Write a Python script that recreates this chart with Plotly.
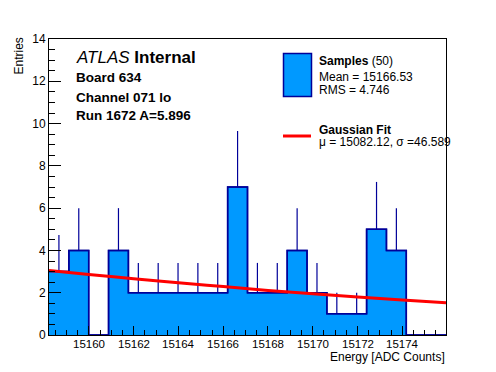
import numpy as np
import plotly.graph_objects as go

# ---------------- data ----------------
x_min = 15158.22
x_max = 15175.95
n_bins = 20
counts = [3, 4, 0, 4, 2, 2, 2, 2, 2, 7, 2, 2, 4, 2, 1, 1, 5, 4, 0, 0]
errors = [1.73, 2.0, 0.0, 2.0, 1.41, 1.41, 1.41, 1.41, 1.41, 2.65,
          1.41, 1.41, 2.0, 1.41, 1.0, 1.0, 2.24, 2.0, 0.0, 0.0]

fit_x = [15158.22, 15160, 15162, 15164, 15166, 15168, 15170, 15172, 15174, 15175.95]
fit_y = [3.05, 2.86, 2.66, 2.47, 2.29, 2.11, 1.95, 1.80, 1.65, 1.53]

y_ticks = [0, 2, 4, 6, 8, 10, 12, 14]
x_ticks = [15160, 15162, 15164, 15166, 15168, 15170, 15172, 15174]

atlas_lines = ["Board 634", "Channel 071 lo", "Run 1672 A=5.896"]
legend_samples = ["Mean = 15166.53", "RMS = 4.746"]
legend_fit = "\u03bc = 15082.12, \u03c3 =46.589"

# ---------------- geometry (screen px; page body has 8px margin) ----------------
OFF = 8
W, H = 488, 364
L, R, T, B = 41, 50, 31, 37
PW, PH = W - L - R, H - T - B

def px(x):
    return (x - OFF - L) / PW

def py(y):
    return (H - B - (y - OFF)) / PH

FONT = "Liberation Sans, Arial, Helvetica, sans-serif"
FILL = "#0099ff"
NAVY = "#000099"

width = (x_max - x_min) / n_bins
edges = x_min + width * np.arange(n_bins + 1)
centers = (edges[:-1] + edges[1:]) / 2

fig = go.Figure()

# histogram fill + stepped outline
fig.add_trace(go.Scatter(
    x=list(edges), y=counts + [counts[-1]],
    mode="lines", line=dict(shape="hv", color=NAVY, width=1.5),
    fill="tozeroy", fillcolor=FILL, hoverinfo="skip", showlegend=False))

# error bars (upper parts visible)
ex = [c for c, n in zip(centers, counts) if n > 0]
ey = [n for n in counts if n > 0]
ee = [e for e, n in zip(errors, counts) if n > 0]
fig.add_trace(go.Scatter(
    x=ex, y=ey, mode="markers", marker=dict(size=0.1, color=NAVY),
    error_y=dict(type="data", array=ee, arrayminus=[0] * len(ee),
                 symmetric=False, color=NAVY, thickness=1.2, width=0),
    hoverinfo="skip", showlegend=False))

# redraw outline over error bars
fig.add_trace(go.Scatter(
    x=list(edges), y=counts + [counts[-1]],
    mode="lines", line=dict(shape="hv", color=NAVY, width=1.5),
    hoverinfo="skip", showlegend=False))

# Gaussian fit
fig.add_trace(go.Scatter(
    x=fit_x, y=fit_y, mode="lines", line=dict(color="#ff0000", width=3, shape="spline"),
    hoverinfo="skip", showlegend=False))

ann = []
def text(xp, yp, s, size, anchor="left", **kw):
    ann.append(dict(x=px(xp), y=py(yp), xref="paper", yref="paper", text=s,
                    showarrow=False, xanchor=anchor, yanchor="middle",
                    font=dict(family=FONT, size=size, color="black"), **kw))

text(74, 57, "<i>ATLAS</i> <b>Internal</b>", 17)
for s, yy in zip(atlas_lines, [77, 97, 115]):
    text(74, yy, "<b>%s</b>" % s, 13.5)

text(317, 61, "<b>Samples</b> (50)", 12)
for s, yy in zip(legend_samples, [77, 90]):
    text(317, yy, s, 12)
text(317, 130, "<b>Gaussian Fit</b>", 12)
text(317, 142, legend_fit, 12)

# x tick labels placed close to the axis (ROOT style)
for v in x_ticks:
    ann.append(dict(x=v, y=py(344), xref="x", yref="paper", text=str(v),
                    showarrow=False, xanchor="center", yanchor="middle",
                    font=dict(family=FONT, size=11.5, color="black")))

# axis titles
ann.append(dict(x=px(446.5), y=py(357), xref="paper", yref="paper",
                text="Energy [ADC Counts]", showarrow=False, xanchor="right",
                yanchor="middle", font=dict(family=FONT, size=12, color="black")))
ann.append(dict(x=px(18), y=py(36), xref="paper", yref="paper", text="Entries",
                showarrow=False, textangle=-90, xanchor="center", yanchor="top",
                font=dict(family=FONT, size=12, color="black")))

shapes = [
    dict(type="rect", xref="paper", yref="paper", x0=px(283.5), x1=px(311.5),
         y0=py(96.5), y1=py(53.5), fillcolor=FILL, line=dict(color=NAVY, width=1.5)),
    dict(type="line", xref="paper", yref="paper", x0=px(283), x1=px(311),
         y0=py(136), y1=py(136), line=dict(color="#ff0000", width=3)),
]

fig.update_layout(
    width=W, height=H, margin=dict(l=L, r=R, t=T, b=B),
    paper_bgcolor="white", plot_bgcolor="white",
    font=dict(family=FONT, color="black"),
    annotations=ann, shapes=shapes, showlegend=False,
    xaxis=dict(range=[x_min, x_max], tickvals=x_ticks, showticklabels=False,
               ticks="inside", ticklen=9, tickwidth=1, tickcolor="black",
               minor=dict(ticks="inside", ticklen=5, dtick=0.5, tick0=15160, tickcolor="black", tickwidth=1),
               showline=True, linecolor="black", linewidth=1, mirror=True,
               showgrid=False, zeroline=False),
    yaxis=dict(range=[0, 14], tickvals=y_ticks, ticks="inside", ticklen=12, tickwidth=1,
               tickcolor="black",
               minor=dict(ticks="inside", ticklen=6, dtick=0.5, tick0=0, tickcolor="black", tickwidth=1),
               showline=True, linecolor="black", linewidth=1, mirror=True,
               showgrid=False, zeroline=False, tickfont=dict(size=12, family=FONT, color="black")),
)

fig.write_html("out.html")
